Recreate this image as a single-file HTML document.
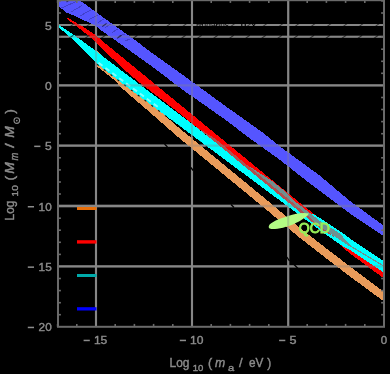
<!DOCTYPE html>
<html><head><meta charset="utf-8">
<style>
html,body{margin:0;padding:0;background:#000;}
body{width:390px;height:374px;overflow:hidden;}
svg{display:block;}
text{font-family:"Liberation Sans",sans-serif;}
</style></head><body>
<svg width="390" height="374" viewBox="0 0 390 374">
<rect width="390" height="374" fill="#000"/>
<defs>
<filter id="gb" x="-2%" y="-2%" width="104%" height="104%"><feGaussianBlur stdDeviation="0.45"/></filter>
<filter id="tb" x="-5%" y="-5%" width="110%" height="110%"><feGaussianBlur stdDeviation="0.35"/></filter>
<clipPath id="c"><rect x="58" y="0" width="326" height="327"/></clipPath>
<g id="grid" stroke="#868686">
<g stroke-width="2.1">
<line x1="58" x2="384" y1="25" y2="25"/>
<line x1="58" x2="384" y1="36.8" y2="36.8"/>
</g>
<g stroke-width="2.3">
<line x1="58" x2="384" y1="85.4" y2="85.4"/>
<line x1="58" x2="384" y1="145.7" y2="145.7"/>
<line x1="58" x2="384" y1="206" y2="206"/>
<line x1="58" x2="384" y1="266.4" y2="266.4"/>
</g>
<g stroke-width="2.1">
<line y1="0" y2="327" x1="96" x2="96"/>
<line y1="0" y2="327" x1="192" x2="192"/>
<line y1="0" y2="327" x1="288.2" x2="288.2"/>
</g>
</g>
</defs>
<use href="#grid" filter="url(#gb)"/>
<g clip-path="url(#c)" shape-rendering="crispEdges">
<polygon points="96.5,50 150,102.5 178,127 265,198.5 300,228 331,252 350,266.5 384,292 384,301.5 350,276.5 331,262 300,238 265,208.5 178,137 150,112.5 120.5,87 115,80.5 96.5,66" fill="#e99b5a"/>
<polygon points="66.5,17.2 81,25.5 96,35.5 106,44 125,59.5 300,203 314,214 320,218.5 384,266 384,278.5 350,253.5 343,247.5 335,240.3 325,233.5 295,208 215,142 190,122 177,111.3 150,90.6 140,83 125,70.3 104,50.5 96,42 80,29 67,19" fill="#ff0000"/>
<polygon points="59,25 76.5,36.8 96,51 125,73.2 150,92.3 177,112.6 190,122.3 215,142 285,199.7 300,205 312,213.5 320,218 339,230.5 350,238.5 384,261.5 384,272.5 350,250 344,247 325,234 127,87 96,63 90.5,57 70.5,37.5 59,27.5" fill="#00ffff"/>
<line x1="98.5" y1="62.8" x2="158" y2="107" stroke="#80ffff" stroke-width="2" stroke-dasharray="5 3.6" shape-rendering="auto"/>
<line x1="97" y1="64.3" x2="215" y2="153" stroke="#000" stroke-width="1.1" stroke-dasharray="2.2 6.3" opacity="0.85" shape-rendering="auto"/>
<polygon points="250,162.1 300,203 314,214 312,214.5 295,201.5 285,191.3 270,179.5 255,170.2 250,166.7" fill="#ff0000"/>
<polygon points="197,127.5 215,138.5 250,167.4 295,204.5 320,226.5 335,237 335,237.5 320,228.5 295,208 215,142 197,127.5" fill="#b05050"/>
<polygon points="250,166.7 255,170.2 270,179.5 285,191.3 295,201.5 312,214.5 320,221 340,233.5 350,245 384,265.5 384,266.8 350,246.5 340,240 320,226.5 295,204.5 250,167.4" fill="#6e9090"/>
<polygon points="58,-15 80,0.5 100,15 139,43 148,50 185,76.5 224,105 264,133.5 280,146.5 319,175 350,201 384,226 384,236.5 375,230.5 350,213.5 308,182 280,160 248,137 225,119.5 208,107.5 185,91.5 150,65 124,46.5 100,29.5 95,25.5 76,16.5 66,12.5 58,5.5" fill="#5555ff"/>
<g stroke="#202070" stroke-width="1" opacity="0.36">
<line x1="61.5" y1="8" x2="76" y2="1.5"/>
<line x1="71" y1="12" x2="82" y2="5.5"/>
<line x1="80" y1="16" x2="90.5" y2="10"/>
<line x1="89" y1="19.5" x2="98" y2="15"/>
<line x1="98" y1="22.5" x2="105" y2="18.5"/>
<line x1="105" y1="27.5" x2="111" y2="24"/>
<line x1="112" y1="32.5" x2="118" y2="29"/>
<line x1="118" y1="36.5" x2="124.5" y2="34"/>
<line x1="125" y1="41" x2="130" y2="39"/>
</g>
<path d="M268.8,226.2 C269.5,222.5 279,219 288,216 C296,213.4 304,212.3 309,213.6 C306.5,217.5 300,221.2 294,224 C286,227.6 273,230.3 269.8,228.6 C268.8,228 268.6,227 268.8,226.2 Z" fill="#b2fc84" shape-rendering="auto"/>
</g>
<use href="#grid" opacity="0.35" filter="url(#gb)"/>
<!-- black dashed overlays -->
<g stroke="#000" stroke-width="1.1" opacity="0.6">
<line x1="70.1" y1="26.6" x2="74.5" y2="23.4"/>
<line x1="86.2" y1="26.6" x2="90.6" y2="23.4"/>
<line x1="102.2" y1="26.6" x2="106.6" y2="23.4"/>
<line x1="118.2" y1="26.6" x2="122.7" y2="23.4"/>
<line x1="134.3" y1="26.6" x2="138.7" y2="23.4"/>
<line x1="150.4" y1="26.6" x2="154.8" y2="23.4"/>
<line x1="166.4" y1="26.6" x2="170.8" y2="23.4"/>
<line x1="182.5" y1="26.6" x2="186.9" y2="23.4"/>
<line x1="198.5" y1="26.6" x2="202.9" y2="23.4"/>
<line x1="214.6" y1="26.6" x2="219.0" y2="23.4"/>
<line x1="230.6" y1="26.6" x2="235.0" y2="23.4"/>
<line x1="246.7" y1="26.6" x2="251.1" y2="23.4"/>
<line x1="262.7" y1="26.6" x2="267.1" y2="23.4"/>
<line x1="278.8" y1="26.6" x2="283.2" y2="23.4"/>
<line x1="294.8" y1="26.6" x2="299.2" y2="23.4"/>
<line x1="310.9" y1="26.6" x2="315.3" y2="23.4"/>
<line x1="326.9" y1="26.6" x2="331.3" y2="23.4"/>
<line x1="343.0" y1="26.6" x2="347.4" y2="23.4"/>
<line x1="359.0" y1="26.6" x2="363.4" y2="23.4"/>
<line x1="375.1" y1="26.6" x2="379.5" y2="23.4"/>
<line x1="68.9" y1="38.4" x2="73.3" y2="35.2"/>
<line x1="85.0" y1="38.4" x2="89.4" y2="35.2"/>
<line x1="101.0" y1="38.4" x2="105.4" y2="35.2"/>
<line x1="117.1" y1="38.4" x2="121.5" y2="35.2"/>
<line x1="133.1" y1="38.4" x2="137.5" y2="35.2"/>
<line x1="149.2" y1="38.4" x2="153.6" y2="35.2"/>
<line x1="165.2" y1="38.4" x2="169.6" y2="35.2"/>
<line x1="181.3" y1="38.4" x2="185.7" y2="35.2"/>
<line x1="197.3" y1="38.4" x2="201.7" y2="35.2"/>
<line x1="213.4" y1="38.4" x2="217.8" y2="35.2"/>
<line x1="229.4" y1="38.4" x2="233.8" y2="35.2"/>
<line x1="245.5" y1="38.4" x2="249.9" y2="35.2"/>
<line x1="261.5" y1="38.4" x2="265.9" y2="35.2"/>
<line x1="277.6" y1="38.4" x2="282.0" y2="35.2"/>
<line x1="293.6" y1="38.4" x2="298.0" y2="35.2"/>
<line x1="309.7" y1="38.4" x2="314.1" y2="35.2"/>
<line x1="325.7" y1="38.4" x2="330.1" y2="35.2"/>
<line x1="341.8" y1="38.4" x2="346.2" y2="35.2"/>
<line x1="357.8" y1="38.4" x2="362.2" y2="35.2"/>
<line x1="373.9" y1="38.4" x2="378.3" y2="35.2"/>
<line x1="66.5" y1="2.0" x2="70.9" y2="-1.2"/>
<line x1="82.5" y1="2.0" x2="86.9" y2="-1.2"/>
<line x1="98.6" y1="2.0" x2="103.0" y2="-1.2"/>
<line x1="114.6" y1="2.0" x2="119.0" y2="-1.2"/>
<line x1="130.7" y1="2.0" x2="135.1" y2="-1.2"/>
<line x1="146.7" y1="2.0" x2="151.1" y2="-1.2"/>
<line x1="162.8" y1="2.0" x2="167.2" y2="-1.2"/>
<line x1="178.8" y1="2.0" x2="183.2" y2="-1.2"/>
<line x1="194.9" y1="2.0" x2="199.3" y2="-1.2"/>
<line x1="210.9" y1="2.0" x2="215.3" y2="-1.2"/>
<line x1="227.0" y1="2.0" x2="231.4" y2="-1.2"/>
<line x1="243.0" y1="2.0" x2="247.4" y2="-1.2"/>
<line x1="259.1" y1="2.0" x2="263.5" y2="-1.2"/>
<line x1="275.1" y1="2.0" x2="279.5" y2="-1.2"/>
<line x1="291.2" y1="2.0" x2="295.6" y2="-1.2"/>
<line x1="307.2" y1="2.0" x2="311.6" y2="-1.2"/>
<line x1="323.3" y1="2.0" x2="327.7" y2="-1.2"/>
<line x1="339.4" y1="2.0" x2="343.8" y2="-1.2"/>
<line x1="355.4" y1="2.0" x2="359.8" y2="-1.2"/>
<line x1="371.5" y1="2.0" x2="375.9" y2="-1.2"/>
</g>
<g filter="url(#tb)"><text x="196" y="27.6" font-size="9" textLength="33" lengthAdjust="spacingAndGlyphs" style="fill:#000">Eridanus</text>
<text x="240" y="27.6" font-size="9" textLength="17" lengthAdjust="spacingAndGlyphs" style="fill:#000">II x</text></g>
<g stroke="#000" stroke-width="1.3" stroke-linecap="butt">
<line x1="164.5" y1="144" x2="167.5" y2="147"/>
<line x1="231" y1="204.5" x2="234" y2="207.5"/>
<line x1="190.8" y1="167.5" x2="193.2" y2="170.5"/>
<line x1="286.8" y1="257" x2="289.5" y2="261"/>
<line x1="294" y1="264.5" x2="298" y2="268.5"/>
</g>
<!-- frame -->
<rect x="58" y="0.2" width="326" height="326.6" fill="none" stroke="#6a6a6a" stroke-width="2" filter="url(#gb)"/>
<!-- ticks -->
<g stroke="#6a6a6a" stroke-width="1.6">
<line x1="58" x2="60.9" y1="314.7" y2="314.7"/>
<line x1="384" x2="381.1" y1="314.7" y2="314.7"/>
<line x1="58" x2="60.9" y1="302.7" y2="302.7"/>
<line x1="384" x2="381.1" y1="302.7" y2="302.7"/>
<line x1="58" x2="60.9" y1="290.6" y2="290.6"/>
<line x1="384" x2="381.1" y1="290.6" y2="290.6"/>
<line x1="58" x2="60.9" y1="278.5" y2="278.5"/>
<line x1="384" x2="381.1" y1="278.5" y2="278.5"/>
<line x1="58" x2="60.9" y1="254.4" y2="254.4"/>
<line x1="384" x2="381.1" y1="254.4" y2="254.4"/>
<line x1="58" x2="60.9" y1="242.3" y2="242.3"/>
<line x1="384" x2="381.1" y1="242.3" y2="242.3"/>
<line x1="58" x2="60.9" y1="230.2" y2="230.2"/>
<line x1="384" x2="381.1" y1="230.2" y2="230.2"/>
<line x1="58" x2="60.9" y1="218.2" y2="218.2"/>
<line x1="384" x2="381.1" y1="218.2" y2="218.2"/>
<line x1="58" x2="60.9" y1="194.0" y2="194.0"/>
<line x1="384" x2="381.1" y1="194.0" y2="194.0"/>
<line x1="58" x2="60.9" y1="182.0" y2="182.0"/>
<line x1="384" x2="381.1" y1="182.0" y2="182.0"/>
<line x1="58" x2="60.9" y1="169.9" y2="169.9"/>
<line x1="384" x2="381.1" y1="169.9" y2="169.9"/>
<line x1="58" x2="60.9" y1="157.8" y2="157.8"/>
<line x1="384" x2="381.1" y1="157.8" y2="157.8"/>
<line x1="58" x2="60.9" y1="133.7" y2="133.7"/>
<line x1="384" x2="381.1" y1="133.7" y2="133.7"/>
<line x1="58" x2="60.9" y1="121.6" y2="121.6"/>
<line x1="384" x2="381.1" y1="121.6" y2="121.6"/>
<line x1="58" x2="60.9" y1="109.5" y2="109.5"/>
<line x1="384" x2="381.1" y1="109.5" y2="109.5"/>
<line x1="58" x2="60.9" y1="97.5" y2="97.5"/>
<line x1="384" x2="381.1" y1="97.5" y2="97.5"/>
<line x1="58" x2="60.9" y1="73.3" y2="73.3"/>
<line x1="384" x2="381.1" y1="73.3" y2="73.3"/>
<line x1="58" x2="60.9" y1="61.3" y2="61.3"/>
<line x1="384" x2="381.1" y1="61.3" y2="61.3"/>
<line x1="58" x2="60.9" y1="49.2" y2="49.2"/>
<line x1="384" x2="381.1" y1="49.2" y2="49.2"/>
<line x1="58" x2="60.9" y1="37.1" y2="37.1"/>
<line x1="384" x2="381.1" y1="37.1" y2="37.1"/>
<line x1="58" x2="60.9" y1="13.0" y2="13.0"/>
<line x1="384" x2="381.1" y1="13.0" y2="13.0"/>
<line x1="58" x2="60.9" y1="0.9" y2="0.9"/>
<line x1="384" x2="381.1" y1="0.9" y2="0.9"/>
<line y1="326.8" y2="323.90000000000003" x1="57.6" x2="57.6"/>
<line y1="0" y2="2.9" x1="57.6" x2="57.6"/>
<line y1="326.8" y2="323.90000000000003" x1="76.8" x2="76.8"/>
<line y1="0" y2="2.9" x1="76.8" x2="76.8"/>
<line y1="326.8" y2="323.90000000000003" x1="115.2" x2="115.2"/>
<line y1="0" y2="2.9" x1="115.2" x2="115.2"/>
<line y1="326.8" y2="323.90000000000003" x1="134.4" x2="134.4"/>
<line y1="0" y2="2.9" x1="134.4" x2="134.4"/>
<line y1="326.8" y2="323.90000000000003" x1="153.6" x2="153.6"/>
<line y1="0" y2="2.9" x1="153.6" x2="153.6"/>
<line y1="326.8" y2="323.90000000000003" x1="172.8" x2="172.8"/>
<line y1="0" y2="2.9" x1="172.8" x2="172.8"/>
<line y1="326.8" y2="323.90000000000003" x1="211.2" x2="211.2"/>
<line y1="0" y2="2.9" x1="211.2" x2="211.2"/>
<line y1="326.8" y2="323.90000000000003" x1="230.4" x2="230.4"/>
<line y1="0" y2="2.9" x1="230.4" x2="230.4"/>
<line y1="326.8" y2="323.90000000000003" x1="249.6" x2="249.6"/>
<line y1="0" y2="2.9" x1="249.6" x2="249.6"/>
<line y1="326.8" y2="323.90000000000003" x1="268.8" x2="268.8"/>
<line y1="0" y2="2.9" x1="268.8" x2="268.8"/>
<line y1="326.8" y2="323.90000000000003" x1="307.2" x2="307.2"/>
<line y1="0" y2="2.9" x1="307.2" x2="307.2"/>
<line y1="326.8" y2="323.90000000000003" x1="326.4" x2="326.4"/>
<line y1="0" y2="2.9" x1="326.4" x2="326.4"/>
<line y1="326.8" y2="323.90000000000003" x1="345.6" x2="345.6"/>
<line y1="0" y2="2.9" x1="345.6" x2="345.6"/>
<line y1="326.8" y2="323.90000000000003" x1="364.8" x2="364.8"/>
<line y1="0" y2="2.9" x1="364.8" x2="364.8"/>
</g>
<!-- legend -->
<rect x="77" y="207" width="19.5" height="3" fill="#e86e08"/>
<rect x="77" y="240.2" width="19.5" height="3.4" fill="#ff0000"/>
<rect x="77" y="274" width="19.5" height="3" fill="#00aaaa"/>
<rect x="77" y="307.2" width="19.5" height="3.3" fill="#0000ff"/>
<text x="298.7" y="232.6" font-size="15" textLength="31.3" lengthAdjust="spacingAndGlyphs" style="fill:#98ee58" stroke="#98ee58" stroke-width="0.95" filter="url(#tb)">QCD</text>
<!-- tick labels -->
<g filter="url(#tb)" stroke="#8c8c8c" stroke-width="0.4" style="fill:#8c8c8c">
<text x="45.0" y="29.5" font-size="11.5" textLength="6.7" lengthAdjust="spacingAndGlyphs">5</text>
<text x="45.0" y="89.9" font-size="11.5" textLength="6.7" lengthAdjust="spacingAndGlyphs">0</text>
<text x="45.0" y="150.2" font-size="11.5" textLength="6.7" lengthAdjust="spacingAndGlyphs">5</text>
<rect x="34.2" y="145.6" width="6.2" height="1.5" stroke="none"/>
<text x="38.6" y="210.6" font-size="11.5" textLength="13.1" lengthAdjust="spacingAndGlyphs">10</text>
<rect x="27.8" y="206.0" width="6.2" height="1.5" stroke="none"/>
<text x="38.6" y="271.0" font-size="11.5" textLength="13.1" lengthAdjust="spacingAndGlyphs">15</text>
<rect x="27.8" y="266.4" width="6.2" height="1.5" stroke="none"/>
<text x="38.6" y="331.3" font-size="11.5" textLength="13.1" lengthAdjust="spacingAndGlyphs">20</text>
<rect x="27.8" y="326.7" width="6.2" height="1.5" stroke="none"/>
<rect x="83.6" y="339.7" width="6.2" height="1.5" stroke="none"/>
<text x="93.9" y="343.8" font-size="11.5" textLength="13.4" lengthAdjust="spacingAndGlyphs">15</text>
<rect x="179.8" y="339.7" width="6.2" height="1.5" stroke="none"/>
<text x="190.1" y="343.8" font-size="11.5" textLength="13.4" lengthAdjust="spacingAndGlyphs">10</text>
<rect x="279.1" y="339.7" width="6.2" height="1.5" stroke="none"/>
<text x="289.4" y="343.8" font-size="11.5" textLength="7.0" lengthAdjust="spacingAndGlyphs">5</text>
<text x="380.8" y="343.8" font-size="11.5" textLength="6.4" lengthAdjust="spacingAndGlyphs">0</text>
<text x="169.5" y="367.4" font-size="12.6" textLength="19.9" lengthAdjust="spacingAndGlyphs">Log</text>
<text x="192.7" y="370.5" font-size="9.3" textLength="10.6" lengthAdjust="spacingAndGlyphs">10</text>
<text x="208.1" y="367.4" font-size="12.6" textLength="4.2" lengthAdjust="spacingAndGlyphs">(</text>
<text x="215.1" y="367.4" font-size="12.6" textLength="10.2" lengthAdjust="spacingAndGlyphs" font-style="italic">m</text>
<text x="227.9" y="370.5" font-size="9.3" textLength="6.2" lengthAdjust="spacingAndGlyphs">a</text>
<text x="239.1" y="367.4" font-size="12.6" textLength="3.6" lengthAdjust="spacingAndGlyphs">/</text>
<text x="249.0" y="367.4" font-size="12.6" textLength="14.4" lengthAdjust="spacingAndGlyphs">eV</text>
<text x="267.3" y="367.4" font-size="12.6" textLength="4.0" lengthAdjust="spacingAndGlyphs">)</text>
<g transform="translate(14.2,219.8) rotate(-90)">
<text x="-0.6" y="0.0" font-size="12.6" textLength="19.9" lengthAdjust="spacingAndGlyphs">Log</text>
<text x="23.4" y="3.3" font-size="9.3" textLength="11.1" lengthAdjust="spacingAndGlyphs">10</text>
<text x="39.4" y="0.0" font-size="12.6" textLength="4.6" lengthAdjust="spacingAndGlyphs">(</text>
<text x="46.0" y="0.0" font-size="12.6" textLength="11.6" lengthAdjust="spacingAndGlyphs" font-style="italic">M</text>
<text x="59.2" y="3.9" font-size="10" textLength="7.8" lengthAdjust="spacingAndGlyphs" font-style="italic">m</text>
<text x="71.8" y="0.0" font-size="12.6" textLength="4.8" lengthAdjust="spacingAndGlyphs">/</text>
<text x="82.0" y="0.0" font-size="12.6" textLength="11.6" lengthAdjust="spacingAndGlyphs" font-style="italic">M</text>
<circle cx="99.2" cy="2.6" r="2.8" fill="none" stroke="#8a8a8a" stroke-width="1.1"/><circle cx="99.2" cy="2.6" r="0.9" fill="#8a8a8a" stroke="none"/>
<text x="106.0" y="0.0" font-size="12.6" textLength="4.6" lengthAdjust="spacingAndGlyphs">)</text>
</g>
</g>
</svg>
</body></html>
